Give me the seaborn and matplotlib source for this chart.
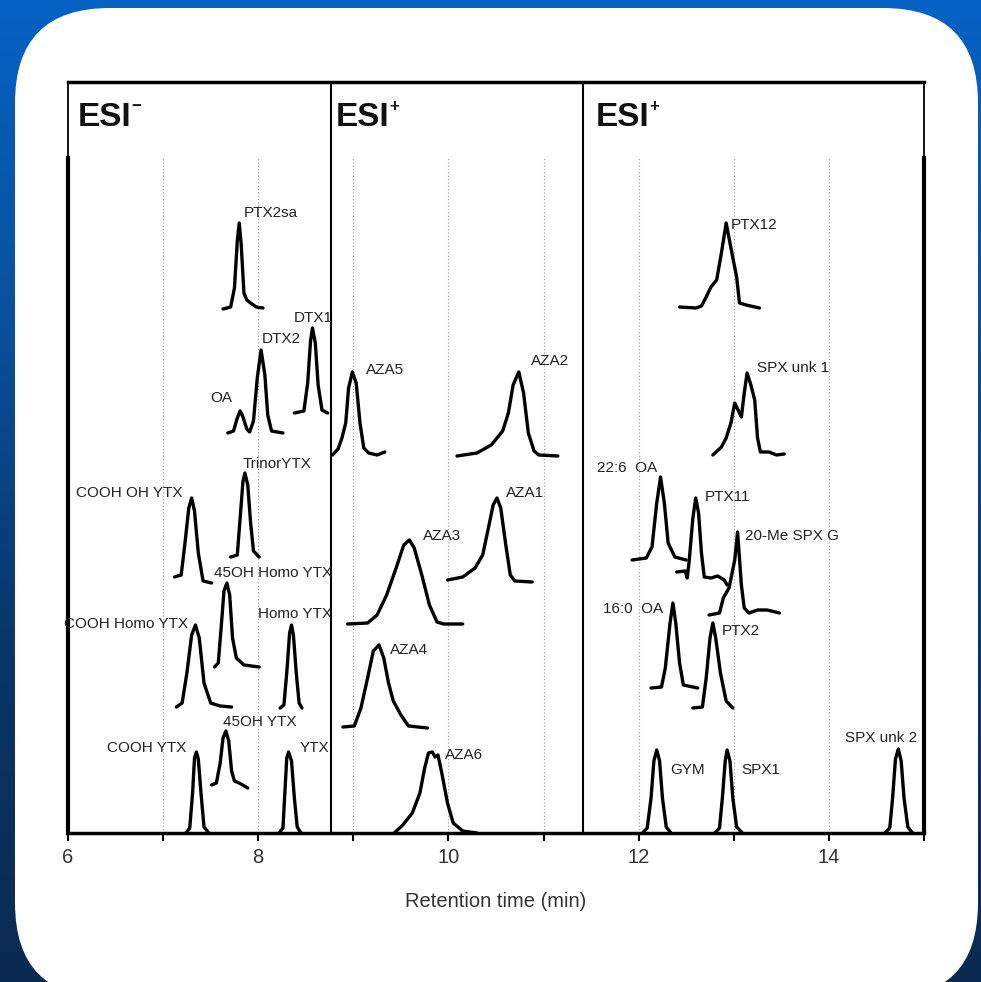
import numpy as np
import pandas as pd
import seaborn as sns
import matplotlib.pyplot as plt
from matplotlib import font_manager as fm
from matplotlib.patches import FancyBboxPatch
from matplotlib.colors import LinearSegmentedColormap

sns.set_style("white")


def have_font(name):
    try:
        fm.findfont(name, fallback_to_default=False)
        return True
    except Exception:
        return False


# narrow face like the original figure, if available
if have_font('Liberation Sans Narrow'):
    FONT, LBL_SIZE, ESI_SIZE, TICK_SIZE = 'Liberation Sans Narrow', 13.5, 26, 16
elif have_font('DejaVu Sans Condensed'):
    FONT, LBL_SIZE, ESI_SIZE, TICK_SIZE = 'DejaVu Sans Condensed', 11, 22, 13.5
else:
    FONT, LBL_SIZE, ESI_SIZE, TICK_SIZE = 'Liberation Sans', 11, 24, 14.5
plt.rcParams['font.family'] = [FONT, 'DejaVu Sans']

# chromatogram traces: retention time (min) and signal height (offset included)
# ESI- panel
PTX2SA_T = [7.63, 7.71, 7.75, 7.78, 7.80, 7.82, 7.85, 7.88, 7.92, 7.98, 8.05]
PTX2SA_H = [524, 526, 545, 592, 610, 590, 540, 533, 530, 526, 525]
DTX2_T = [7.68, 7.74, 7.78, 7.81, 7.84, 7.88, 7.91, 7.95, 7.99, 8.03, 8.07, 8.10, 8.14, 8.26]
DTX2_H = [400, 402, 415, 422, 416, 404, 401, 412, 455, 483, 458, 418, 402, 400]
DTX1_T = [8.38, 8.48, 8.52, 8.55, 8.57, 8.60, 8.63, 8.67, 8.73]
DTX1_H = [420, 422, 450, 492, 505, 490, 448, 423, 420]
COOHOH_T = [7.12, 7.19, 7.23, 7.27, 7.30, 7.33, 7.37, 7.42, 7.51]
COOHOH_H = [256, 258, 290, 325, 335, 322, 280, 252, 250]
TRINOR_T = [7.71, 7.78, 7.81, 7.84, 7.86, 7.89, 7.92, 7.95, 8.01]
TRINOR_H = [276, 278, 315, 352, 360, 348, 310, 282, 276]
OH45HOMO_T = [7.54, 7.58, 7.61, 7.64, 7.67, 7.70, 7.73, 7.77, 7.85, 8.01]
OH45HOMO_H = [166, 170, 205, 242, 250, 238, 195, 175, 168, 166]
COOHHOMO_T = [7.14, 7.20, 7.25, 7.30, 7.34, 7.38, 7.43, 7.50, 7.60, 7.72]
COOHHOMO_H = [126, 130, 160, 198, 208, 195, 150, 130, 127, 126]
HOMO_T = [8.23, 8.27, 8.30, 8.33, 8.35, 8.37, 8.40, 8.43, 8.46]
HOMO_H = [125, 128, 160, 200, 208, 198, 160, 130, 125]
COOHYTX_T = [7.24, 7.28, 7.31, 7.33, 7.35, 7.37, 7.40, 7.43, 7.48]
COOHYTX_H = [0, 5, 40, 75, 81, 74, 38, 6, 0]
OH45YTX_T = [7.51, 7.56, 7.60, 7.63, 7.66, 7.69, 7.72, 7.75, 7.80, 7.89]
OH45YTX_H = [48, 50, 70, 95, 102, 92, 62, 52, 50, 45]
YTX_T = [8.22, 8.26, 8.28, 8.30, 8.32, 8.35, 8.38, 8.41, 8.45]
YTX_H = [0, 5, 40, 75, 81, 72, 35, 6, 0]

# ESI+ panel (azaspiracids)
AZA5_T = [8.78, 8.84, 8.88, 8.92, 8.95, 8.99, 9.03, 9.07, 9.11, 9.16, 9.25, 9.33]
AZA5_H = [378, 384, 395, 410, 445, 461, 450, 410, 385, 380, 378, 381]
AZA2_T = [10.09, 10.30, 10.45, 10.57, 10.63, 10.68, 10.74, 10.79, 10.84, 10.90, 10.95, 11.15]
AZA2_H = [377, 380, 388, 402, 420, 448, 461, 440, 400, 382, 378, 377]
AZA1_T = [9.99, 10.15, 10.28, 10.36, 10.42, 10.47, 10.51, 10.55, 10.60, 10.65, 10.70, 10.88]
AZA1_H = [253, 256, 265, 278, 305, 328, 335, 325, 290, 258, 252, 251]
AZA3_T = [8.94, 9.15, 9.25, 9.35, 9.45, 9.53, 9.59, 9.64, 9.72, 9.80, 9.88, 9.95, 10.15]
AZA3_H = [209, 210, 218, 238, 265, 288, 293, 285, 258, 228, 211, 209, 209]
AZA4_T = [8.89, 9.01, 9.08, 9.15, 9.21, 9.27, 9.32, 9.37, 9.42, 9.50, 9.58, 9.78]
AZA4_H = [106, 107, 125, 155, 182, 188, 175, 150, 132, 118, 107, 105]
AZA6_T = [9.43, 9.52, 9.62, 9.70, 9.75, 9.79, 9.83, 9.86, 9.89, 9.93, 9.99, 10.05, 10.15, 10.30]
AZA6_H = [0, 8, 20, 40, 65, 80, 81, 76, 78, 60, 30, 10, 2, 0]

# ESI+ panel (pectenotoxins, spirolides, ...)
PTX12_T = [12.43, 12.60, 12.66, 12.71, 12.76, 12.82, 12.87, 12.92, 12.97, 13.03, 13.06, 13.13, 13.27]
PTX12_H = [526, 525, 527, 536, 546, 553, 580, 610, 585, 556, 530, 528, 525]
SPXUNK1_T = [12.78, 12.87, 12.92, 12.97, 13.01, 13.05, 13.08, 13.11, 13.14, 13.18, 13.22, 13.25,
             13.28, 13.37, 13.45, 13.53]
SPXUNK1_H = [378, 386, 395, 410, 430, 422, 416, 440, 460, 448, 433, 395, 381, 381, 378, 379]
OA226_T = [11.93, 12.08, 12.14, 12.19, 12.23, 12.27, 12.31, 12.38, 12.50]
OA226_H = [273, 275, 286, 330, 356, 330, 290, 276, 273]
PTX11_T = [12.40, 12.49, 12.51, 12.53, 12.57, 12.60, 12.63, 12.66, 12.69, 12.76, 12.83, 12.90, 12.93]
PTX11_H = [261, 262, 255, 271, 315, 335, 320, 280, 256, 255, 257, 253, 248]
SPXG_T = [12.74, 12.85, 12.89, 12.95, 13.01, 13.04, 13.08, 13.11, 13.16, 13.25, 13.35, 13.48]
SPXG_H = [218, 220, 235, 245, 273, 301, 248, 225, 220, 223, 223, 220]
OA160_T = [12.13, 12.24, 12.28, 12.33, 12.36, 12.39, 12.43, 12.47, 12.62]
OA160_H = [145, 146, 165, 210, 230, 210, 170, 148, 145]
PTX2_T = [12.57, 12.67, 12.71, 12.75, 12.78, 12.81, 12.86, 12.92, 12.99]
PTX2_H = [125, 126, 155, 195, 210, 195, 160, 132, 125]
GYM_T = [12.04, 12.09, 12.13, 12.16, 12.19, 12.22, 12.25, 12.29, 12.34]
GYM_H = [0, 5, 35, 72, 83, 72, 35, 6, 0]
SPX1_T = [12.80, 12.85, 12.88, 12.91, 12.93, 12.96, 12.99, 13.03, 13.09]
SPX1_H = [0, 5, 35, 72, 83, 72, 35, 6, 0]
SPXUNK2_T = [14.59, 14.64, 14.67, 14.70, 14.73, 14.76, 14.79, 14.83, 14.88]
SPXUNK2_H = [0, 5, 35, 74, 84, 72, 35, 6, 0]

TRACES = [
    ("PTX2sa", PTX2SA_T, PTX2SA_H), ("DTX2", DTX2_T, DTX2_H), ("DTX1", DTX1_T, DTX1_H),
    ("COOH OH YTX", COOHOH_T, COOHOH_H), ("TrinorYTX", TRINOR_T, TRINOR_H),
    ("45OH Homo YTX", OH45HOMO_T, OH45HOMO_H), ("COOH Homo YTX", COOHHOMO_T, COOHHOMO_H),
    ("Homo YTX", HOMO_T, HOMO_H), ("COOH YTX", COOHYTX_T, COOHYTX_H),
    ("45OH YTX", OH45YTX_T, OH45YTX_H), ("YTX", YTX_T, YTX_H),
    ("AZA5", AZA5_T, AZA5_H), ("AZA2", AZA2_T, AZA2_H), ("AZA1", AZA1_T, AZA1_H),
    ("AZA3", AZA3_T, AZA3_H), ("AZA4", AZA4_T, AZA4_H), ("AZA6", AZA6_T, AZA6_H),
    ("PTX12", PTX12_T, PTX12_H), ("SPX unk 1", SPXUNK1_T, SPXUNK1_H),
    ("22:6  OA", OA226_T, OA226_H), ("PTX11", PTX11_T, PTX11_H),
    ("20-Me SPX G", SPXG_T, SPXG_H), ("16:0  OA", OA160_T, OA160_H),
    ("PTX2", PTX2_T, PTX2_H), ("GYM", GYM_T, GYM_H), ("SPX1", SPX1_T, SPX1_H),
    ("SPX unk 2", SPXUNK2_T, SPXUNK2_H),
]

# label placement (x, y, horizontal alignment) -- layout only
LABEL_POS = {
    "PTX2sa": (7.85, 620, 'left'), "DTX2": (8.04, 494, 'left'), "DTX1": (8.58, 515, 'center'),
    "OA": (7.73, 435, 'right'), "COOH OH YTX": (7.20, 340, 'right'),
    "TrinorYTX": (7.84, 369, 'left'), "45OH Homo YTX": (7.54, 260, 'left'),
    "COOH Homo YTX": (7.26, 209, 'right'), "Homo YTX": (8.00, 219, 'left'),
    "COOH YTX": (7.24, 85, 'right'), "45OH YTX": (7.63, 111, 'left'), "YTX": (8.44, 85, 'left'),
    "AZA5": (9.13, 463, 'left'), "AZA2": (10.87, 472, 'left'), "AZA1": (10.60, 340, 'left'),
    "AZA3": (9.73, 297, 'left'), "AZA4": (9.39, 183, 'left'), "AZA6": (9.96, 78, 'left'),
    "PTX12": (12.97, 608, 'left'), "SPX unk 1": (13.24, 465, 'left'),
    "22:6  OA": (11.56, 365, 'left'), "PTX11": (12.69, 336, 'left'),
    "20-Me SPX G": (13.12, 297, 'left'), "16:0  OA": (11.63, 224, 'left'),
    "PTX2": (12.87, 202, 'left'), "GYM": (12.33, 63, 'left'), "SPX1": (13.08, 63, 'left'),
    "SPX unk 2": (14.17, 95, 'left'),
}

PANEL_EDGES = [8.76, 11.41]
PANEL_TITLES = [(6.1, '\u2212'), (8.81, '+'), (11.55, '+')]
GRID_TIMES = [7, 8, 9, 10, 11, 12, 13, 14]

rows = []
for name, t, h in TRACES:
    for ti, hi in zip(t, h):
        rows.append({'trace': name, 't': ti, 'h': hi})
df = pd.DataFrame(rows)

W, H = 981, 982
fig = plt.figure(figsize=(W / 100, H / 100), dpi=100)

# background: blue gradient + rounded white card
bg = fig.add_axes([0, 0, 1, 1])
grad = np.linspace(0, 1, 256).reshape(-1, 1)
bg_cmap = LinearSegmentedColormap.from_list('bg', ['#0562c4', '#0b4f9c', '#0a3568', '#0a2a52'])
bg.imshow(grad, aspect='auto', cmap=bg_cmap, extent=[0, W, H, 0])
bg.add_patch(FancyBboxPatch((15, 8), 963, 990, boxstyle='round,pad=0,rounding_size=95',
                            facecolor='white', edgecolor='none'))
bg.set_xlim(0, W)
bg.set_ylim(H, 0)
bg.axis('off')

ax = fig.add_axes([68 / W, 1 - 833 / H, (924 - 68) / W, (833 - 82) / H])
ax.set_facecolor('none')
ax.set_xlim(6, 15)
ax.set_ylim(0, 751)

ax.vlines(GRID_TIMES, 0, 675, colors='#9a9a9a', linestyles=(0, (1, 2)), lw=0.8, zorder=1)

sns.lineplot(data=df, x='t', y='h', units='trace', estimator=None, sort=False,
             color='black', lw=2.4, ax=ax, zorder=3)

for name, (x, y, ha) in LABEL_POS.items():
    ax.text(x, y, name, ha=ha, va='center', fontsize=LBL_SIZE, color='#222222', zorder=4)

# frame
for side in ['left', 'right']:
    ax.spines[side].set_bounds(0, 675)
    ax.spines[side].set_linewidth(3)
ax.spines['bottom'].set_linewidth(2.5)
ax.spines['top'].set_linewidth(2.5)
for s in ax.spines.values():
    s.set_color('black')
ax.vlines([6, 15], 675, 751, colors='black', lw=1.3, clip_on=False)
ax.vlines(PANEL_EDGES, 0, 751, colors='black', lw=1.5)

for x0, sign in PANEL_TITLES:
    tt = ax.text(x0, 716, 'ESI', fontsize=ESI_SIZE, fontweight='bold', ha='left', va='center',
                 color='#111111')
    ax.annotate(sign, xy=(1, 1), xycoords=tt, xytext=(0, 2), textcoords='offset points',
                fontsize=ESI_SIZE * 0.5, fontweight='bold', ha='left', va='top', color='#111111')

ax.set_xticks([6, 8, 10, 12, 14])
ax.set_xticks([7, 9, 11, 13, 15], minor=True)
ax.set_yticks([])
ax.tick_params(axis='x', which='both', direction='out', length=6, width=1.5,
               bottom=True, labelsize=TICK_SIZE, pad=5, colors='black', labelcolor='#333333')
ax.set_xlabel('Retention time (min)', fontsize=TICK_SIZE, color='#333333', labelpad=18)
ax.set_ylabel('')

fig.savefig('out.png', dpi=100)
